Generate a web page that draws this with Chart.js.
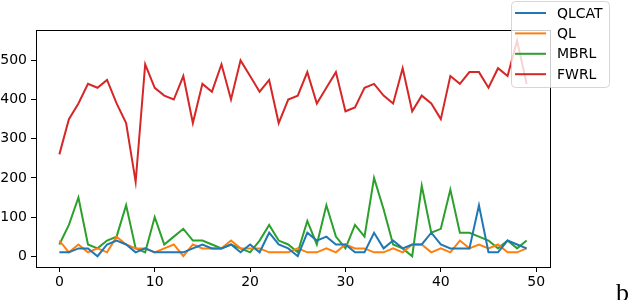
<!DOCTYPE html>
<html>
<head>
<meta charset="utf-8">
<script src="https://cdn.jsdelivr.net/npm/chart.js@4/dist/chart.umd.min.js"></script>
<style>
  html, body { margin: 0; padding: 0; background: #fff; }
  #wrap { width: 630px; height: 300px; position: relative; }
</style>
</head>
<body>
<div id="wrap"><canvas id="myChart"></canvas></div>
<script>
// Datos
const episodios = Array.from({ length: 50 }, (_, i) => i);
const qlcat = [10, 10, 20, 20, 0, 30, 40, 30, 10, 20, 10, 10, 10, 10, 20, 30, 20, 20, 30, 10,
               30, 10, 60, 30, 20, 0, 60, 40, 50, 30, 30, 10, 10, 60, 20, 40, 20, 30, 30, 60,
               30, 20, 20, 20, 130, 10, 10, 40, 30, 20];
const ql = [40, 10, 30, 10, 20, 10, 50, 30, 20, 20, 10, 20, 30, 0, 30, 20, 20, 20, 40, 20,
            20, 20, 10, 10, 10, 20, 10, 10, 20, 10, 30, 20, 20, 10, 10, 20, 10, 30, 30, 10,
            20, 10, 40, 20, 30, 20, 30, 10, 10, 20];
const mbrl = [30, 80, 150, 30, 20, 40, 50, 130, 20, 10, 100, 30, 50, 70, 40, 40, 30, 20, 30, 20,
              10, 40, 80, 40, 30, 10, 90, 30, 130, 50, 20, 80, 50, 200, 120, 30, 20, 0, 180, 60,
              70, 170, 60, 60, 50, 40, 20, 40, 20, 40];
const fwrl = [260, 350, 390, 440, 430, 450, 390, 340, 190, 490, 430, 410, 400, 460, 340, 440, 420, 490, 400, 500,
              460, 420, 450, 340, 400, 410, 470, 390, 430, 470, 370, 380, 430, 440, 410, 390, 480, 370, 410, 390,
              350, 460, 440, 470, 470, 430, 480, 460, 550, 440];
const xTicks = [0, 10, 20, 30, 40, 50];
const yTicks = [0, 100, 200, 300, 400, 500];

const series = [
  { label: 'QLCAT', data: qlcat, color: '#1f77b4' },
  { label: 'QL', data: ql, color: '#ff7f0e' },
  { label: 'MBRL', data: mbrl, color: '#2ca02c' },
  { label: 'FWRL', data: fwrl, color: '#d62728' },
];

const fuente = "'DejaVu Sans', sans-serif";

// Caja completa del eje, leyenda y la letra "b"
const extras = {
  id: 'extras',
  afterDatasetsDraw(chart) {
    const { ctx, chartArea: a } = chart;
    ctx.save();
    ctx.strokeStyle = '#000';
    ctx.lineWidth = 1;
    ctx.strokeRect(a.left + 0.5, a.top + 0.5, a.right - a.left, a.bottom - a.top);

    // leyenda
    const bx = 511, by = 1, bw = 98, bh = 86, r = 4;
    ctx.beginPath();
    ctx.roundRect(bx + 0.5, by + 0.5, bw, bh, r);
    ctx.fillStyle = 'rgba(255,255,255,0.8)';
    ctx.fill();
    ctx.strokeStyle = 'rgba(204,204,204,0.8)';
    ctx.stroke();
    ctx.font = '14px ' + fuente;
    ctx.textBaseline = 'middle';
    series.forEach((s, i) => {
      const y = 13 + i * 20.4;
      ctx.strokeStyle = s.color;
      ctx.lineWidth = 2;
      ctx.beginPath();
      ctx.moveTo(515, y);
      ctx.lineTo(546, y);
      ctx.stroke();
      ctx.fillStyle = '#000';
      ctx.fillText(s.label, 557, y + 1);
    });

    ctx.font = "26px 'Liberation Serif', serif";
    ctx.textBaseline = 'alphabetic';
    ctx.fillText('b', 616, 301);
    ctx.restore();
  }
};

new Chart(document.getElementById('myChart'), {
  type: 'line',
  data: {
    labels: episodios,
    datasets: series.map(s => ({
      label: s.label,
      data: s.data.map((v, i) => ({ x: episodios[i], y: v })),
      borderColor: s.color,
      borderWidth: 2,
      pointRadius: 0,
      fill: false,
      tension: 0,
    })),
  },
  options: {
    responsive: true,
    maintainAspectRatio: false,
    animation: false,
    layout: { padding: { top: 30, right: 80, left: 0, bottom: 0 } },
    plugins: { legend: { display: false }, tooltip: { enabled: false } },
    scales: {
      x: {
        type: 'linear',
        min: -2.45,
        max: 51.45,
        afterBuildTicks: scale => { scale.ticks = xTicks.map(v => ({ value: v })); },
        afterFit: scale => { scale.height = 33; },
        grid: { drawOnChartArea: false, drawTicks: true, tickLength: 5, color: '#000' },
        border: { color: '#000' },
        ticks: { color: '#000', font: { family: fuente, size: 14 }, padding: 2, maxRotation: 0 },
      },
      y: {
        min: -27.5,
        max: 577.5,
        afterBuildTicks: scale => { scale.ticks = yTicks.map(v => ({ value: v })); },
        afterFit: scale => { scale.width = 36; },
        grid: { drawOnChartArea: false, drawTicks: true, tickLength: 5, color: '#000' },
        border: { color: '#000' },
        ticks: { color: '#000', font: { family: fuente, size: 14 }, padding: 4 },
      },
    },
  },
  plugins: [extras],
});
</script>
</body>
</html>
